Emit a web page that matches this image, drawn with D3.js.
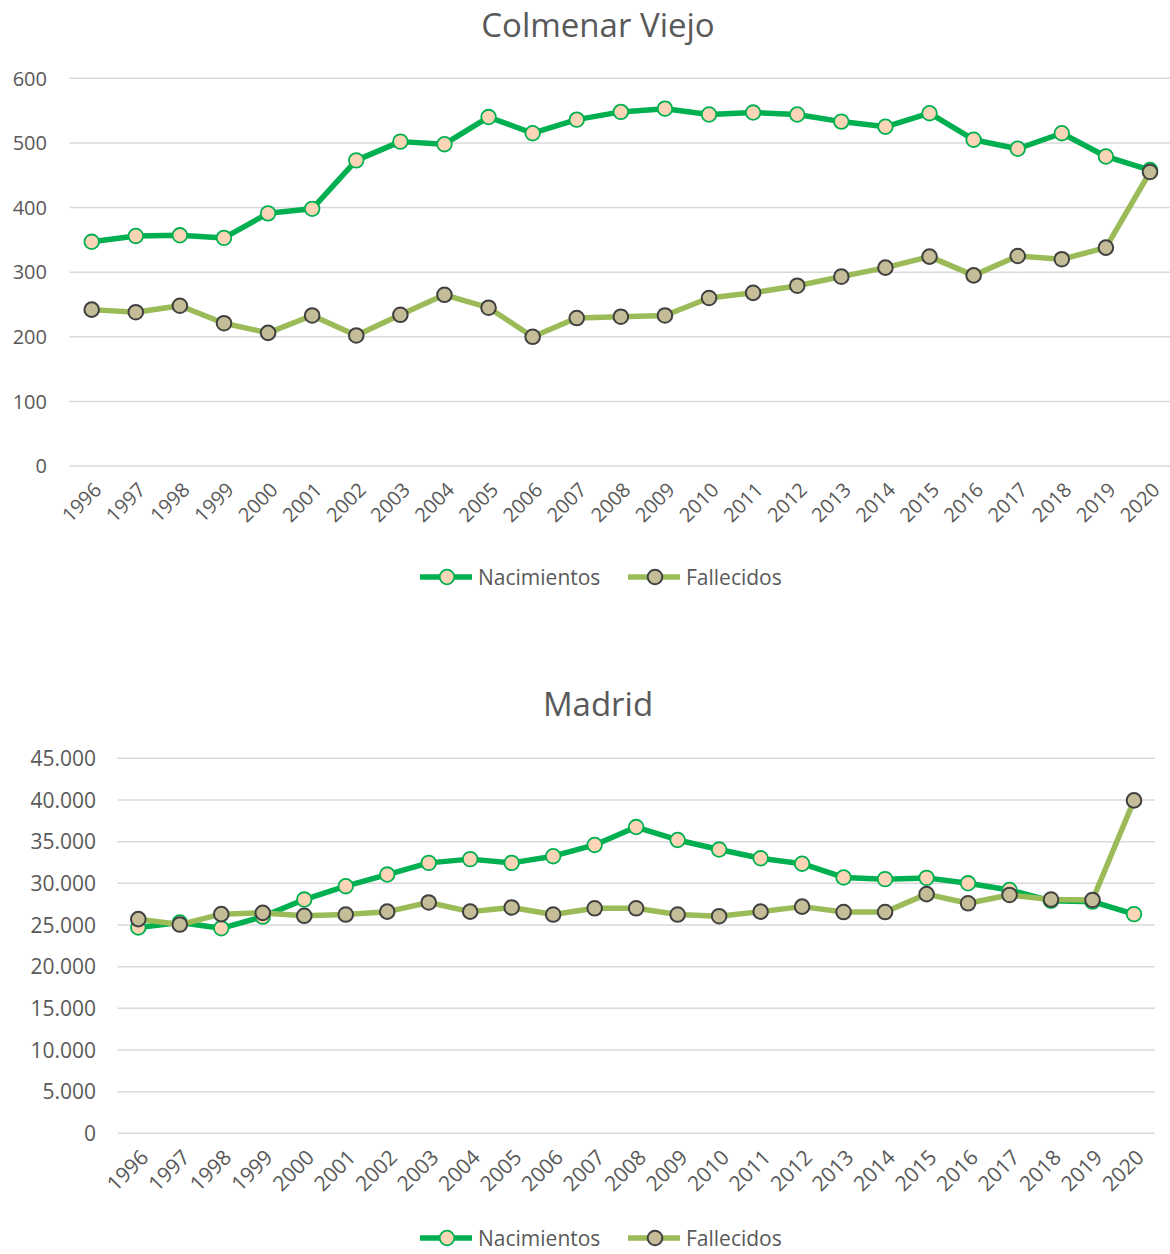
<!DOCTYPE html>
<html><head><meta charset="utf-8">
<script src="https://cdn.jsdelivr.net/npm/d3@7"></script>
<style>body{margin:0;background:#fff}svg{display:block}text{font-family:"Open Sans",sans-serif;fill:#595959}</style>
</head><body><svg id="c" width="1170" height="1254"></svg>
<script>
const years = ["1996","1997","1998","1999","2000","2001","2002","2003","2004","2005","2006","2007","2008","2009","2010","2011","2012","2013","2014","2015","2016","2017","2018","2019","2020"];
const colmenarNacimientos = [347,356,357,353,391,398,473,502,498,540,515,536,548,553,544,547,544,533,525,546,505,491,515,479,458];
const colmenarFallecidos = [242,238,248,221,206,233,202,234,265,245,200,229,231,233,260,268,279,293,307,324,295,325,320,338,455];
const colmenarTicks = [0,100,200,300,400,500,600];
const madridNacimientos = [24700,25300,24600,26000,28050,29650,31050,32450,32900,32450,33250,34600,36750,35200,34050,33000,32350,30700,30500,30650,30000,29200,27900,27800,26300];
const madridFallecidos = [25700,25050,26300,26450,26100,26250,26600,27700,26600,27100,26250,27000,27000,26250,26050,26600,27200,26550,26550,28700,27600,28600,28050,28000,39950];
const madridTicks = [0,5000,10000,15000,20000,25000,30000,35000,40000,45000];
const seriesNames = ["Nacimientos","Fallecidos"];

const svg = d3.select("#c");
const fmt = d3.formatLocale({decimal:",",thousands:".",grouping:[3],currency:["","€"]}).format(",d");

function chart(cfg){
  const g = svg.append("g");
  const x = d3.scalePoint().domain(years).range([cfg.x0, cfg.x1]);
  const y = d3.scaleLinear().domain([0, d3.max(cfg.ticks)]).range([cfg.yb, cfg.yt]);
  g.append("text").attr("x",598).attr("y",cfg.titleY).attr("text-anchor","middle")
    .style("font-size","33px").text(cfg.title);
  const step = x.step();
  g.append("g").selectAll("line").data(cfg.ticks).join("line")
    .attr("x1",cfg.x0-step/2).attr("x2",cfg.x1+step/2)
    .attr("y1",d=>y(d)).attr("y2",d=>y(d)).attr("stroke","#d9d9d9").attr("stroke-width",1.5);
  g.append("g").selectAll("text").data(cfg.ticks).join("text")
    .attr("x",cfg.labelX).attr("y",d=>y(d)).attr("dy","0.36em").attr("text-anchor","end")
    .style("font-size",cfg.fs+"px").text(d=>fmt(d));
  g.append("g").selectAll("text").data(years).join("text")
    .attr("transform",d=>`translate(${x(d)+6},${cfg.yb+20}) rotate(-45)`)
    .attr("text-anchor","end").attr("dy","0.36em")
    .style("font-size",cfg.fs+"px").text(d=>d);
  const styles = [
    {line:"#00b050", fill:"#fbd5b5", stroke:"#00b050", sw:1.8},
    {line:"#9bbb59", fill:"#c4bd97", stroke:"#404040", sw:2}
  ];
  const data = [cfg.nac, cfg.fal];
  const line = d3.line().x((d,i)=>x(years[i])).y(d=>y(d));
  data.forEach((vals,k)=>{
    g.append("path").datum(vals).attr("d",line).attr("fill","none")
      .attr("stroke",styles[k].line).attr("stroke-width",5.5).attr("stroke-linejoin","round");
    g.append("g").selectAll("circle").data(vals).join("circle")
      .attr("cx",(d,i)=>x(years[i])).attr("cy",d=>y(d)).attr("r",7.3)
      .attr("fill",styles[k].fill).attr("stroke",styles[k].stroke).attr("stroke-width",styles[k].sw);
  });
  const lx = [420, 628];
  seriesNames.forEach((n,k)=>{
    const lg = g.append("g").attr("transform",`translate(${lx[k]},${cfg.legY})`);
    lg.append("line").attr("x1",0).attr("x2",52).attr("stroke",styles[k].line).attr("stroke-width",5.5);
    lg.append("circle").attr("cx",27).attr("r",7.3).attr("fill",styles[k].fill)
      .attr("stroke",styles[k].stroke).attr("stroke-width",styles[k].sw);
    lg.append("text").attr("x",58).attr("dy","0.36em").style("font-size","21px").text(n);
  });
}

chart({title:"Colmenar Viejo", titleY:37, x0:91.7, x1:1150, yb:466, yt:78.3, ticks:colmenarTicks,
  labelX:47, fs:20, nac:colmenarNacimientos, fal:colmenarFallecidos, legY:577});
chart({title:"Madrid", titleY:716, x0:138.3, x1:1134, yb:1133.3, yt:758.3, ticks:madridTicks,
  labelX:96, fs:21, nac:madridNacimientos, fal:madridFallecidos, legY:1238});
</script></body></html>
